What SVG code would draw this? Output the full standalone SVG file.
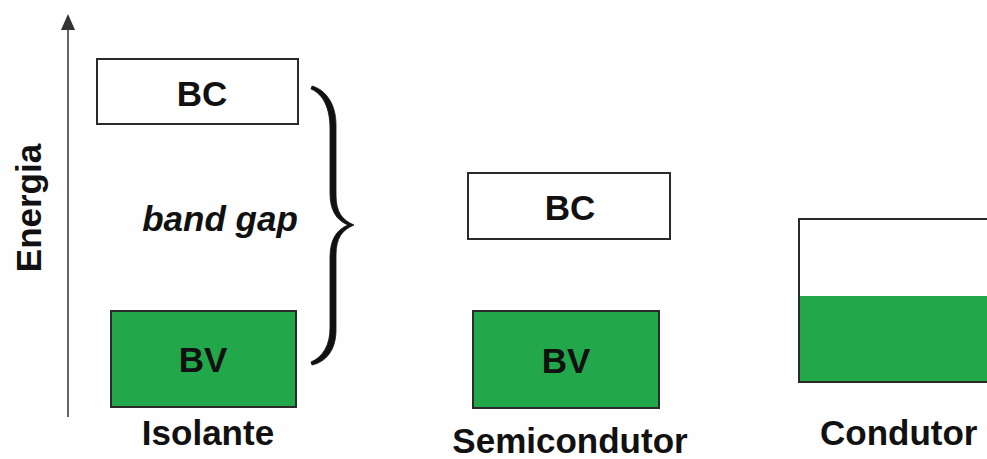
<svg xmlns="http://www.w3.org/2000/svg" width="987" height="459" viewBox="0 0 987 459">
  <defs>
    <style>
      .lbl { font-family: "Liberation Sans", Arial, sans-serif; font-weight: bold; font-size: 35px; fill: #111; }
      .band { stroke: #2a2a2a; stroke-width: 2; }
      .empty { fill: #ffffff; }
      .full { fill: #22a84a; }
    </style>
  </defs>
  <rect width="987" height="459" fill="#fefefe"/>

  <!-- energy axis and the brace over the gap -->
  <g id="connectors">
    <line x1="68" y1="417" x2="68" y2="16" stroke="#666" stroke-width="2"/>
    <path d="M61,30 L68,14 L75,30 Z" fill="#333"/>
    <path d="M312,86 C326,90 336,104 336,125 L336,195 C336,212 342,220 354,225 C342,230 336,238 336,255 L336,330 C336,350 326,362 312,365 L311,362 C323,357 330,345 330,328 L330,258 C330,240 336,230 348,225 C336,220 330,210 330,193 L330,128 C330,108 323,94 311,89 Z"
          fill="#111" stroke="#111" stroke-width="0.8" stroke-linejoin="round"/>
  </g>

  <g id="axis-label">
    <text class="lbl" transform="translate(41,208) rotate(-90)" text-anchor="middle">Energia</text>
  </g>

  <!-- insulator -->
  <g id="isolante">
    <rect class="band empty" x="97" y="59" width="201" height="65"/>
    <text class="lbl" x="202" y="106" text-anchor="middle" font-size="37">BC</text>
    <rect class="band full" x="111" y="311" width="185" height="96"/>
    <text class="lbl" x="203" y="372" text-anchor="middle" font-size="37">BV</text>
    <text class="lbl" x="220" y="231" text-anchor="middle" font-style="italic" font-size="30">band gap</text>
    <text class="lbl" x="208" y="445" text-anchor="middle">Isolante</text>
  </g>

  <!-- semiconductor -->
  <g id="semicondutor">
    <rect class="band empty" x="468" y="173" width="202" height="66"/>
    <text class="lbl" x="570" y="220" text-anchor="middle" font-size="37">BC</text>
    <rect class="band full" x="473" y="311" width="186" height="97"/>
    <text class="lbl" x="566" y="373" text-anchor="middle" font-size="37">BV</text>
    <text class="lbl" x="570" y="453" text-anchor="middle">Semicondutor</text>
  </g>

  <!-- conductor: partly filled band running off the right edge -->
  <g id="condutor">
    <rect class="empty" x="799" y="219" width="200" height="78"/>
    <rect class="full" x="799" y="296" width="200" height="86"/>
    <path d="M1000,219 L799,219 L799,382 L1000,382" class="band" fill="none"/>
    <text class="lbl" x="820" y="445">Condutor</text>
  </g>
</svg>
